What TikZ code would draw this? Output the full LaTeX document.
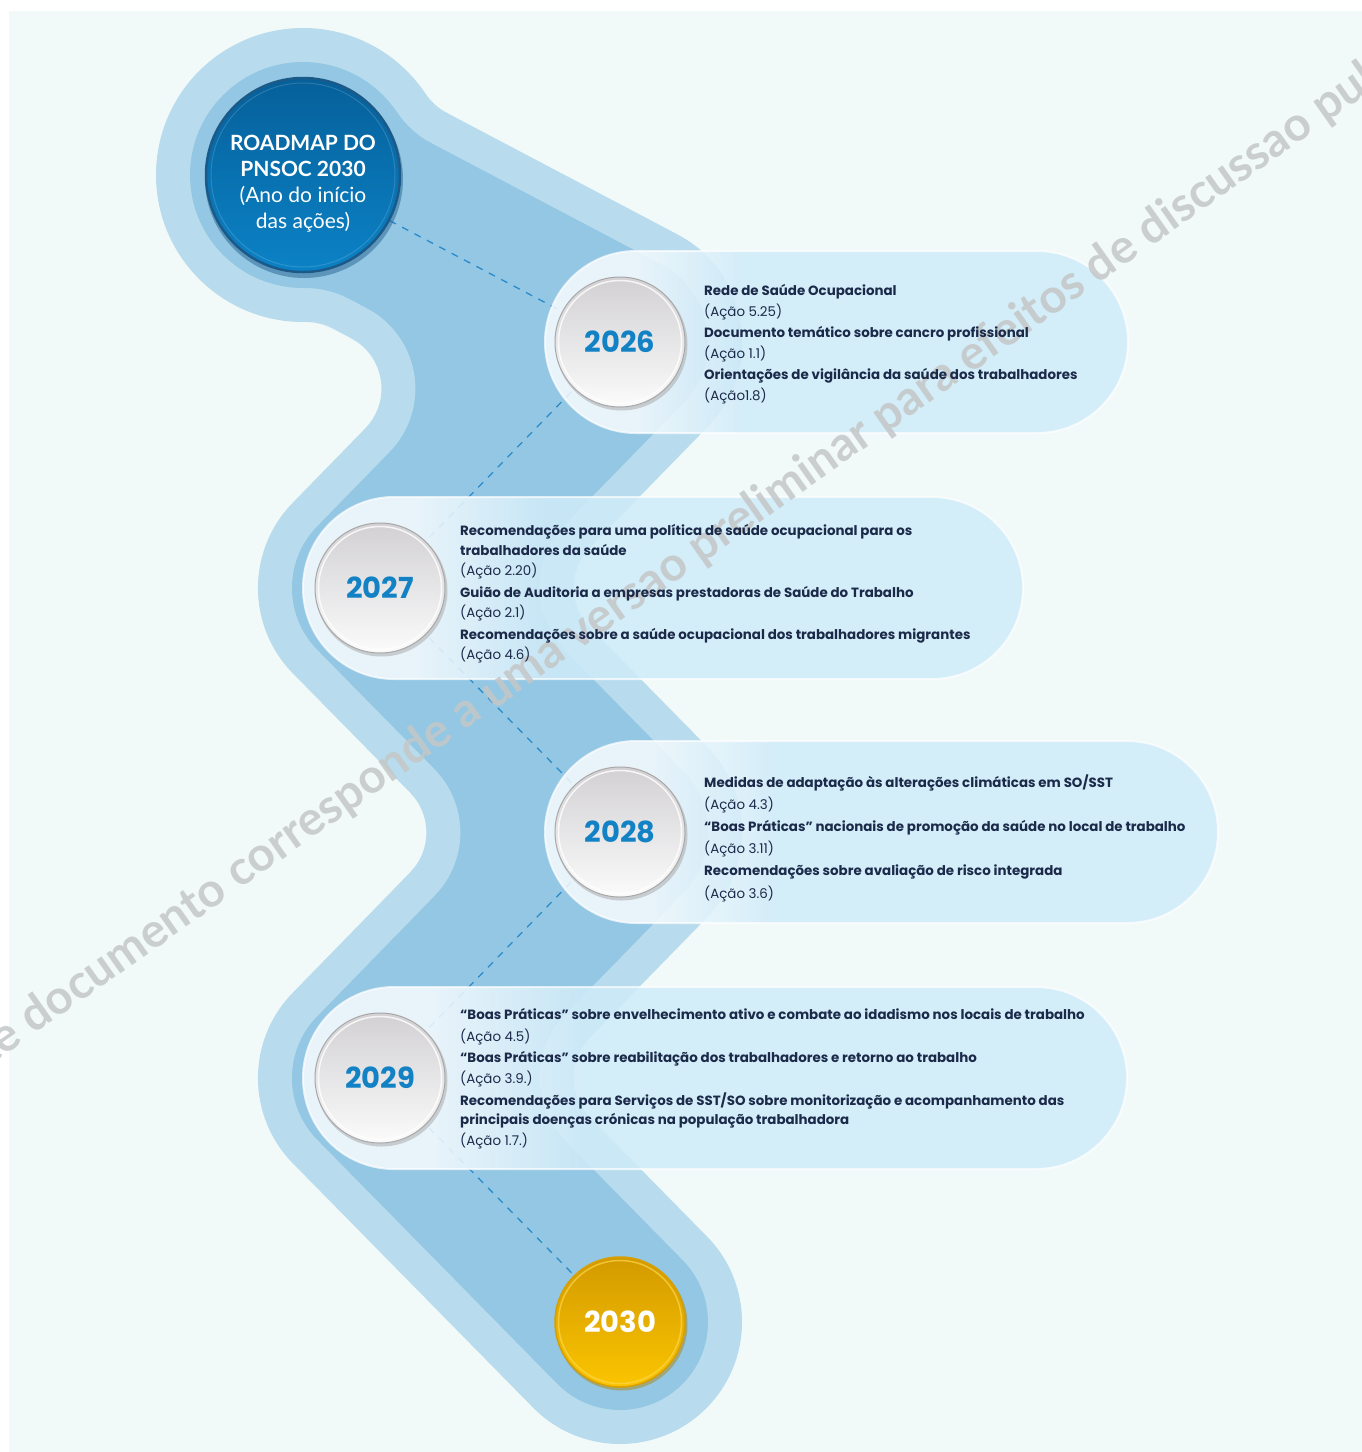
\documentclass[tikz,border=0pt]{standalone}
\usepackage{fontspec}
\setmainfont{Lato}
\newfontfamily\popfont{Poppins}
\definecolor{bgMint}{HTML}{F2FAF9}
\definecolor{bandL}{HTML}{B8DCED}
\definecolor{bandM}{HTML}{93C7E3}
\definecolor{pillC}{HTML}{CFEBF9}
\definecolor{pillW}{HTML}{F6FBFE}
\definecolor{dashC}{HTML}{2A8BCB}
\definecolor{navy}{HTML}{1C2A4A}
\definecolor{yearBlue}{HTML}{1282C5}
\definecolor{rmTop}{HTML}{06609A}
\definecolor{rmBot}{HTML}{0B82C6}
\definecolor{rmRim}{HTML}{1B5A88}
\definecolor{goldTop}{HTML}{D39A00}
\definecolor{goldBot}{HTML}{FBC500}
\definecolor{goldRim}{HTML}{D89F00}
\definecolor{grayTop}{HTML}{D2D0D3}
\definecolor{grayBot}{HTML}{FBFBFB}
\definecolor{grayRim}{HTML}{A8A8A8}
\definecolor{wmGray}{HTML}{C4C7C7}
\pgfdeclarehorizontalshading{pillshade}{100bp}{color(0bp)=(pillW); color(25bp)=(pillW); color(33bp)=(pillW); color(42bp)=(pillC); color(100bp)=(pillC)}
\tikzset{
  pill/.style={shading=pillshade, opacity=0.86, rounded corners=91pt},
  pillrim/.style={draw=white, line width=2pt, draw opacity=0.7, rounded corners=91pt},
  yearc/.style={circle, minimum size=130pt, inner sep=0pt, top color=grayTop, bottom color=grayBot, draw=grayRim, line width=1pt, text=yearBlue, font=\popfont\bfseries\fontsize{29}{29}\selectfont},
  goldc/.style={circle, minimum size=130pt, inner sep=0pt, top color=goldTop, bottom color=goldBot, draw=goldRim, line width=1.5pt, text=white, font=\popfont\bfseries\fontsize{29}{29}\selectfont},
  rmc/.style={circle, minimum size=194pt, inner sep=0pt, top color=rmTop, bottom color=rmBot, draw=rmRim, line width=2.5pt},
  tb/.style={anchor=base west, inner sep=0pt, text=navy, font=\popfont\fontsize{13.4}{16}\selectfont\bfseries},
  tr/.style={anchor=base west, inner sep=0pt, text=navy, font=\popfont\fontsize{13.4}{16}\selectfont},
  dashline/.style={draw=dashC, line width=1.3pt, dash pattern=on 7pt off 7pt},
  wm/.style={inner sep=0pt, text=wmGray, text opacity=0.85, font=\fontsize{47.5}{47.5}\selectfont\bfseries}
}
\begin{document}
\begin{tikzpicture}[x=1pt,y=-1pt]
\useasboundingbox (0,0) rectangle (1362,1452);
\fill[white] (0,0) rectangle (1362,1452);
\fill[bgMint] (9,11) rectangle (1362,1452);
% centre points
\coordinate (P0) at (303,175);
\coordinate (P1) at (620,342);
\coordinate (P2) at (380,588);
\coordinate (P3) at (620,832);
\coordinate (P4) at (380,1078);
\coordinate (P5) at (620,1322);
% fillet construction points
\coordinate (JL) at (318.69,321.15); \coordinate (TlL) at (333.37,328.89);
\coordinate (JU) at (432.41,105.28); \coordinate (TlU) at (447.09,113.02);
\coordinate (jL) at (324.71,285.91); \coordinate (tlL) at (349.21,298.82);
\coordinate (jU) at (406.75,130.19); \coordinate (tlU) at (431.25,143.10);
% light band
\draw[bandL, line width=244pt, line join=round, line cap=round] (P0)--(P1)--(P2)--(P3)--(P4)--(P5);
\fill[bandL] (P0) circle[radius=147pt];
\fill[bandL] (P1) -- (351.03,338.19) arc[start angle=-62.21, end angle=44.29, radius=57] -- cycle;
\fill[bandL] (P2) -- (589.81,547.68) arc[start angle=-135.70, end angle=-224.53, radius=57] -- cycle;
\fill[bandL] (P3) -- (410.03,792.53) arc[start angle=-44.53, end angle=44.30, radius=57] -- cycle;
\fill[bandL] (P4) -- (589.81,1037.68) arc[start angle=-135.70, end angle=-224.53, radius=57] -- cycle;
\fill[bandL] (JL) -- (TlL) arc[start angle=-62.21, end angle=-90.67, radius=60] -- cycle;
\fill[bandL] (JU) -- (TlU) arc[start angle=117.79, end angle=146.23, radius=60] -- cycle;
% medium band
\draw[bandM, line width=176pt, line join=round, line cap=round] (P0)--(P1)--(P2)--(P3)--(P4)--(P5);
\fill[bandM] (P0) circle[radius=113pt];
\fill[bandM] (P1) -- (366.88,308.11) arc[start angle=-62.21, end angle=44.29, radius=91] -- cycle;
\fill[bandM] (P2) -- (565.47,523.93) arc[start angle=-135.70, end angle=-224.53, radius=91] -- cycle;
\fill[bandM] (P3) -- (434.27,768.68) arc[start angle=-44.53, end angle=44.30, radius=91] -- cycle;
\fill[bandM] (P4) -- (565.47,1013.93) arc[start angle=-135.70, end angle=-224.53, radius=91] -- cycle;
\fill[bandM] (jL) -- (tlL) arc[start angle=-62.21, end angle=-90.66, radius=94] -- cycle;
\fill[bandM] (jU) -- (tlU) arc[start angle=117.78, end angle=146.23, radius=94] -- cycle;
% dashed connectors
\draw[dashline] (P0)--(P1);
\draw[dashline] (P1)--(P2);
\draw[dashline] (P2)--(P3);
\draw[dashline] (P3)--(P4);
\draw[dashline] (P4)--(P5);
% pills
\shade[pill] (545,251) rectangle (1128,433);
\draw[pillrim] (545,251) rectangle (1128,433);
\shade[pill] (303,497) rectangle (1023,679);
\draw[pillrim] (303,497) rectangle (1023,679);
\shade[pill] (545,741) rectangle (1218,923);
\draw[pillrim] (545,741) rectangle (1218,923);
\shade[pill] (303,987) rectangle (1127,1169);
\draw[pillrim] (303,987) rectangle (1127,1169);
% watermark
\node[wm, rotate=35.2, anchor=base west] (wmark) at (-50,1094) {Este documento corresponde a uma versao preliminar para efeitos de discussao publica};
% roadmap circle
\fill[rmRim, opacity=0.45] (304,179) circle[radius=99pt];
\node[rmc] (c0) at (P0) {};
\draw[white, line width=1pt, opacity=0.15] (P0) circle[radius=92pt];
\node[text=white, align=center, inner sep=0pt, font=\fontsize{21}{26}\selectfont] (c0t) at (303,184) {\textbf{ROADMAP DO}\\\textbf{PNSOC 2030}\\(Ano do início\\das ações)};
% year circles
\fill[gray!70, opacity=0.5] (621.5,344.5) circle[radius=66pt];
\node[yearc] (c1) at (P1) {2026};
\draw[white, line width=1.5pt, opacity=0.8] (P1) circle[radius=61.5pt];
\fill[gray!70, opacity=0.5] (381.5,590.5) circle[radius=66pt];
\node[yearc] (c2) at (P2) {2027};
\draw[white, line width=1.5pt, opacity=0.8] (P2) circle[radius=61.5pt];
\fill[gray!70, opacity=0.5] (621.5,834.5) circle[radius=66pt];
\node[yearc] (c3) at (P3) {2028};
\draw[white, line width=1.5pt, opacity=0.8] (P3) circle[radius=61.5pt];
\fill[gray!70, opacity=0.5] (381.5,1080.5) circle[radius=66pt];
\node[yearc] (c4) at (P4) {2029};
\draw[white, line width=1.5pt, opacity=0.8] (P4) circle[radius=61.5pt];
\fill[goldRim!80!black, opacity=0.45] (621.5,1324.5) circle[radius=66pt];
\node[goldc] (c5) at (P5) {2030};
\draw[goldBot!70!white, line width=1.5pt, opacity=0.7] (P5) circle[radius=61.5pt];
% texts 2026
\node[tb] (t1a) at (704,295) {Rede de Saúde Ocupacional};
\node[tr] (t1b) at (704,316) {(Ação 5.25)};
\node[tb] (t1c) at (704,337) {Documento temático sobre cancro profissional};
\node[tr] (t1d) at (704,358) {(Ação 1.1)};
\node[tb] (t1e) at (704,379) {Orientações de vigilância da saúde dos trabalhadores};
\node[tr] (t1f) at (704,400) {(Ação1.8)};
% texts 2027
\node[tb] (t2a) at (460,535) {Recomendações para uma política de saúde ocupacional para os};
\node[tb] (t2b) at (460,555) {trabalhadores da saúde};
\node[tr] (t2c) at (460,575) {(Ação 2.20)};
\node[tb] (t2d) at (460,597) {Guião de Auditoria a empresas prestadoras de Saúde do Trabalho};
\node[tr] (t2e) at (460,617) {(Ação 2.1)};
\node[tb] (t2f) at (460,639) {Recomendações sobre a saúde ocupacional dos trabalhadores migrantes};
\node[tr] (t2g) at (460,659) {(Ação 4.6)};
% texts 2028
\node[tb] (t3a) at (704,787) {Medidas de adaptação às alterações climáticas em SO/SST};
\node[tr] (t3b) at (704,809) {(Ação 4.3)};
\node[tb] (t3c) at (704,831) {“Boas Práticas” nacionais de promoção da saúde no local de trabalho};
\node[tr] (t3d) at (704,853) {(Ação 3.11)};
\node[tb] (t3e) at (704,875) {Recomendações sobre avaliação de risco integrada};
\node[tr] (t3f) at (704,898) {(Ação 3.6)};
% texts 2029
\node[tb] (t4a) at (460,1019) {“Boas Práticas” sobre envelhecimento ativo e combate ao idadismo nos locais de trabalho};
\node[tr] (t4b) at (460,1041) {(Ação 4.5)};
\node[tb] (t4c) at (460,1062) {“Boas Práticas” sobre reabilitação dos trabalhadores e retorno ao trabalho};
\node[tr] (t4d) at (460,1083) {(Ação 3.9.)};
\node[tb] (t4e) at (460,1105) {Recomendações para Serviços de SST/SO sobre monitorização e acompanhamento das};
\node[tb] (t4f) at (460,1124) {principais doenças crónicas na população trabalhadora};
\node[tr] (t4g) at (460,1145) {(Ação 1.7.)};
\end{tikzpicture}
\end{document}
